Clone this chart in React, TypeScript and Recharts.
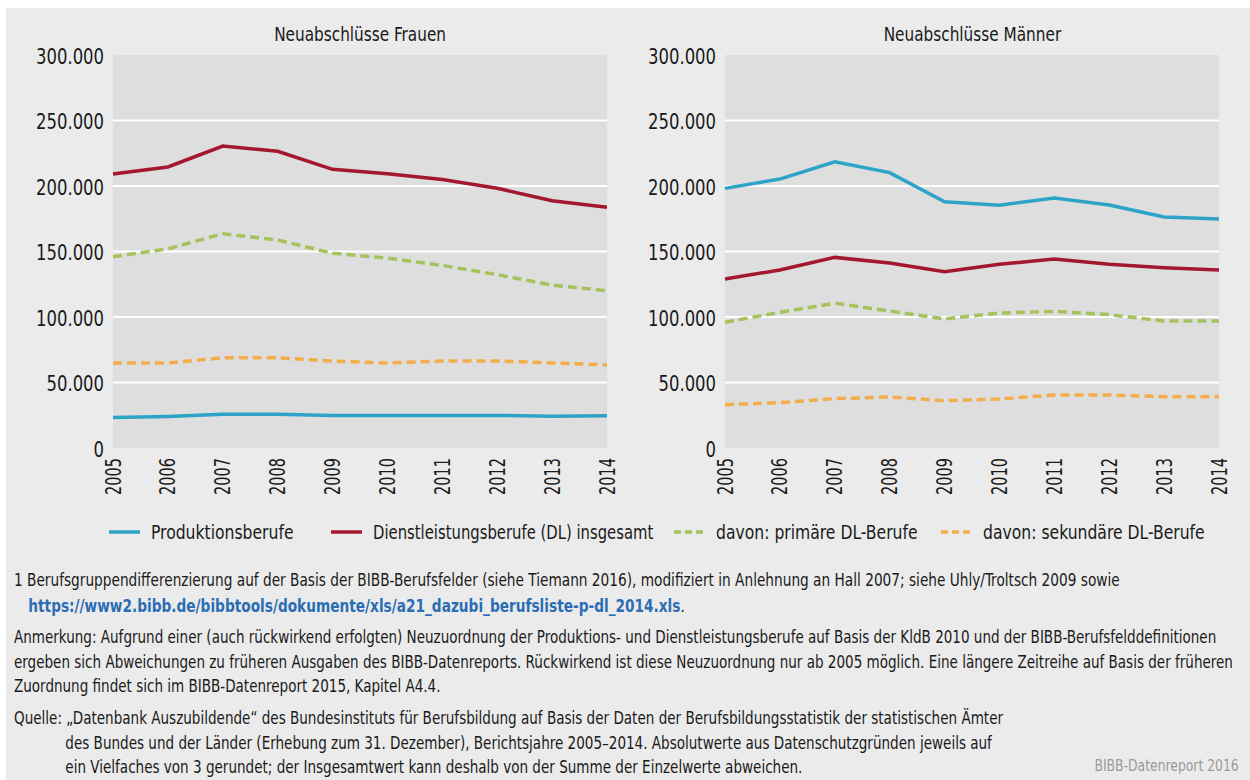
import React from 'react';
import { LineChart, Line, XAxis, YAxis, CartesianGrid } from 'recharts';

// Jahre (x-Achse)
const years = ['2005', '2006', '2007', '2008', '2009', '2010', '2011', '2012', '2013', '2014'];

// Neuabschlüsse Frauen
const frauenProduktion = [23200, 24000, 25700, 25700, 24900, 24900, 24900, 24900, 24200, 24700];
const frauenDL = [209200, 214500, 230500, 226500, 212700, 209300, 205000, 198300, 188800, 183700];
const frauenPrimaer = [146000, 152000, 163600, 158800, 148600, 145000, 139400, 132300, 124400, 120000];
const frauenSekundaer = [64900, 64900, 68900, 68900, 66400, 64900, 66400, 66400, 64900, 63400];

// Neuabschlüsse Männer
const maennerProduktion = [198200, 205300, 218500, 210200, 188000, 185300, 190800, 185500, 176300, 174800];
const maennerDL = [129000, 135900, 145500, 141200, 134600, 140200, 144300, 140200, 137600, 135900];
const maennerPrimaer = [96000, 103600, 110500, 104600, 98500, 103000, 104300, 101800, 96900, 96900];
const maennerSekundaer = [33100, 34600, 37700, 38900, 36100, 37400, 40500, 40500, 39200, 39200];

const yTicks = [0, 50000, 100000, 150000, 200000, 250000, 300000];
const gridTicks = [50000, 100000, 150000, 200000, 250000];

const seriesNames = [
  'Produktionsberufe',
  'Dienstleistungsberufe (DL) insgesamt',
  'davon: primäre DL-Berufe',
  'davon: sekundäre DL-Berufe',
];

const FONT = "'DejaVu Sans Condensed', 'Liberation Sans Narrow', sans-serif";
const BLUE = '#2ea3c8';
const RED = '#a3182f';
const GREEN = '#a6c25a';
const ORANGE = '#f2ae4c';

const fmt = (v: number) => String(v).replace(/\B(?=(\d{3})+(?!\d))/g, '.');

const buildRows = (prod: number[], dl: number[], prim: number[], sek: number[]) =>
  years.map((year, i) => ({ year, prod: prod[i], dl: dl[i], prim: prim[i], sek: sek[i] }));

const frauenData = buildRows(frauenProduktion, frauenDL, frauenPrimaer, frauenSekundaer);
const maennerData = buildRows(maennerProduktion, maennerDL, maennerPrimaer, maennerSekundaer);

// rotated year labels, squeezed to look like the condensed original font
const YearTick = (props: any) => {
  const { x, y, payload } = props;
  return (
    <text
      x={-13}
      y={0}
      transform={`translate(${x},${y}) rotate(-90) scale(0.77,1)`}
      textAnchor="end"
      dy="0.36em"
      fontSize={21}
      fontFamily={FONT}
      fill="#1a1a1a"
    >
      {payload.value}
    </text>
  );
};

const ValueTick = (props: any) => {
  const { x, y, payload } = props;
  return (
    <text
      x={0}
      y={0}
      transform={`translate(${x},${y}) scale(0.87,1)`}
      textAnchor="end"
      dy="0.42em"
      fontSize={21}
      fontFamily={FONT}
      fill="#1a1a1a"
    >
      {fmt(payload.value)}
    </text>
  );
};

interface PanelProps {
  title: string;
  data: typeof frauenData;
  left: number;
}

const Panel: React.FC<PanelProps> = ({ title, data, left }) => (
  <div style={{ position: 'absolute', left, top: 0, width: 622, height: 500 }}>
    <div
      style={{
        position: 'absolute',
        left: 107,
        width: 494,
        top: 14,
        textAlign: 'center',
        fontFamily: FONT,
        fontSize: 20,
        color: '#1a1a1a',
      }}
    >
      <span style={{ display: 'inline-block', transform: 'scaleX(0.85)' }}>{title}</span>
    </div>
    <LineChart
      width={622}
      height={500}
      data={data}
      margin={{ top: 47, right: 21, left: 0, bottom: 0 }}
    >
      <CartesianGrid
        fill="#dedede"
        vertical={false}
        stroke="#ffffff"
        strokeWidth={2}
        horizontalValues={gridTicks}
      />
      <XAxis
        dataKey="year"
        axisLine={false}
        tickLine={false}
        tickSize={0}
        tickMargin={0}
        interval={0}
        height={60}
        tick={<YearTick />}
      />
      <YAxis
        domain={[0, 300000]}
        ticks={yTicks}
        width={107}
        axisLine={false}
        tickLine={false}
        tickSize={0}
        tickMargin={9}
        tick={<ValueTick />}
      />
      <Line dataKey="sek" stroke={ORANGE} strokeWidth={3.5} strokeDasharray="9 5" dot={false} isAnimationActive={false} />
      <Line dataKey="prim" stroke={GREEN} strokeWidth={3.5} strokeDasharray="9 5" dot={false} isAnimationActive={false} />
      <Line dataKey="dl" stroke={RED} strokeWidth={3.5} dot={false} isAnimationActive={false} />
      <Line dataKey="prod" stroke={BLUE} strokeWidth={3.5} dot={false} isAnimationActive={false} />
    </LineChart>
  </div>
);

const legendItems = [
  { name: seriesNames[0], color: BLUE, dashed: false, left: 103, squeeze: 0.89 },
  { name: seriesNames[1], color: RED, dashed: false, left: 325, squeeze: 0.845 },
  { name: seriesNames[2], color: GREEN, dashed: true, left: 668, squeeze: 0.89 },
  { name: seriesNames[3], color: ORANGE, dashed: true, left: 935, squeeze: 0.89 },
];

const Legend = () => (
  <>
    {legendItems.map((item) => (
      <div
        key={item.name}
        style={{
          position: 'absolute',
          left: item.left,
          top: 511,
          height: 26,
          display: 'flex',
          alignItems: 'center',
          fontFamily: FONT,
          fontSize: 19.5,
          color: '#1a1a1a',
          whiteSpace: 'nowrap',
        }}
      >
        <svg width={31} height={6} style={{ marginRight: 11 }}>
          <line
            x1={0}
            y1={3}
            x2={31}
            y2={3}
            stroke={item.color}
            strokeWidth={3.5}
            strokeDasharray={item.dashed ? '7 4' : undefined}
          />
        </svg>
        <span style={{ display: 'inline-block', transform: `scaleX(${item.squeeze})`, transformOrigin: 'left center' }}>
          {item.name}
        </span>
      </div>
    ))}
  </>
);

const noteStyle: React.CSSProperties = {
  position: 'absolute',
  left: 8,
  fontFamily: FONT,
  fontSize: 17,
  color: '#1a1a1a',
  whiteSpace: 'nowrap',
  transformOrigin: 'left top',
};

export default function App() {
  return (
    <div
      style={{
        position: 'absolute',
        left: 6,
        top: 8,
        width: 1244,
        height: 772,
        background: '#ebebeb',
        overflow: 'hidden',
      }}
    >
      <Panel title="Neuabschlüsse Frauen" data={frauenData} left={0} />
      <Panel title="Neuabschlüsse Männer" data={maennerData} left={612} />
      <Legend />

      <div style={{ ...noteStyle, top: 559, lineHeight: '26px', transform: 'scaleX(0.895)' }}>
        <div>
          1 Berufsgruppendifferenzierung auf der Basis der BIBB-Berufsfelder (siehe Tiemann 2016), modifiziert in
          Anlehnung an Hall 2007; siehe Uhly/Troltsch 2009 sowie
        </div>
        <div style={{ paddingLeft: 16 }}>
          <span style={{ color: '#2b6db4', fontWeight: 'bold' }}>
            https://www2.bibb.de/bibbtools/dokumente/xls/a21_dazubi_berufsliste-p-dl_2014.xls
          </span>
          .
        </div>
      </div>

      <div style={{ ...noteStyle, top: 617, lineHeight: '24.5px', transform: 'scaleX(0.884)' }}>
        <div>
          Anmerkung: Aufgrund einer (auch rückwirkend erfolgten) Neuzuordnung der Produktions- und Dienstleistungsberufe
          auf Basis der KldB 2010 und der BIBB-Berufsfelddefinitionen
        </div>
        <div>
          ergeben sich Abweichungen zu früheren Ausgaben des BIBB-Datenreports. Rückwirkend ist diese Neuzuordnung nur ab
          2005 möglich. Eine längere Zeitreihe auf Basis der früheren
        </div>
        <div>Zuordnung findet sich im BIBB-Datenreport 2015, Kapitel A4.4.</div>
      </div>

      <div style={{ ...noteStyle, top: 698, lineHeight: '24.5px', transform: 'scaleX(0.885)' }}>
        <div>
          Quelle: „Datenbank Auszubildende“ des Bundesinstituts für Berufsbildung auf Basis der Daten der
          Berufsbildungsstatistik der statistischen Ämter
        </div>
        <div style={{ paddingLeft: 58 }}>
          des Bundes und der Länder (Erhebung zum 31. Dezember), Berichtsjahre 2005–2014. Absolutwerte aus
          Datenschutzgründen jeweils auf
        </div>
        <div style={{ paddingLeft: 58 }}>
          ein Vielfaches von 3 gerundet; der Insgesamtwert kann deshalb von der Summe der Einzelwerte abweichen.
        </div>
      </div>

      <div
        style={{
          position: 'absolute',
          right: 11,
          top: 746,
          lineHeight: '24.5px',
          fontFamily: FONT,
          fontSize: 16,
          color: '#9a9a9a',
          whiteSpace: 'nowrap',
          transform: 'scaleX(0.86)',
          transformOrigin: 'right top',
        }}
      >
        BIBB-Datenreport 2016
      </div>
    </div>
  );
}
